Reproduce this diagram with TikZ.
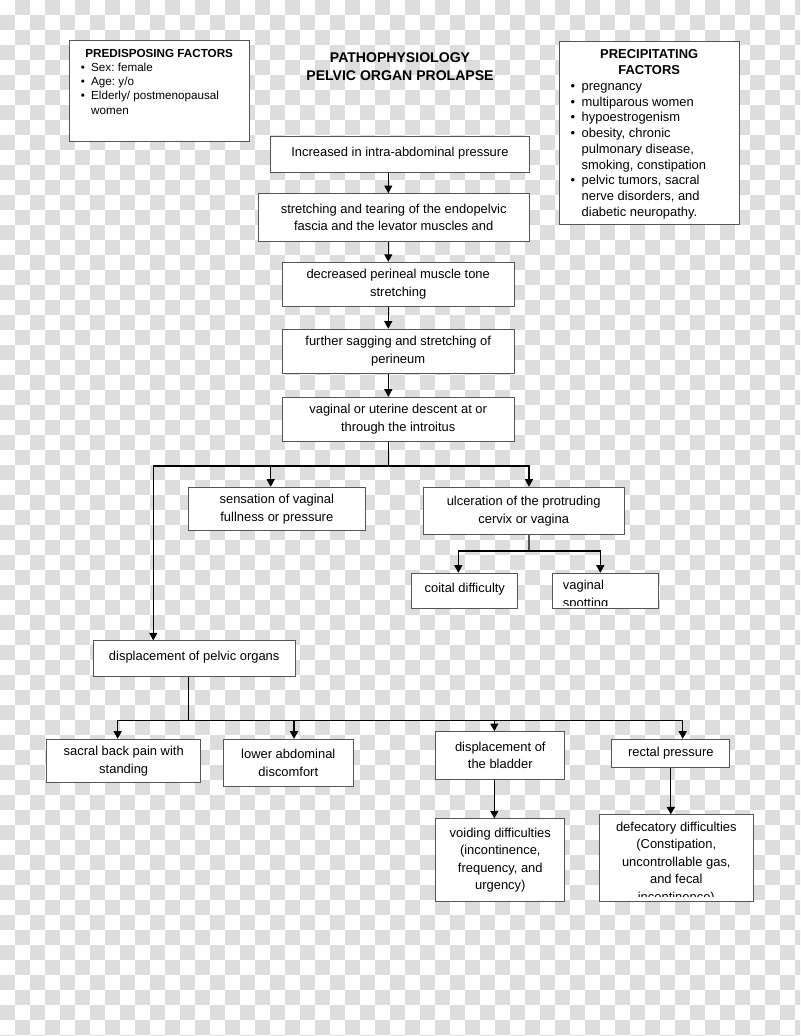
\documentclass[tikz,border=0pt]{standalone}
\usepackage{fontspec}
\setmainfont{Liberation Sans}
\usetikzlibrary{arrows.meta}
\definecolor{checkgray}{HTML}{DDDDDD}
\definecolor{boxline}{HTML}{555555}
\newlength\pxu
\setlength\pxu{0.025cm}
\frenchspacing

\begin{document}
\begin{tikzpicture}[x=0.025cm, y=-0.025cm, >={Triangle[length=0.19cm, width=0.2cm]},
	boxtext/.style={align=center, inner sep=0pt, font=\fontsize{9.2}{12.4}\selectfont},
	box/.style={boxtext, draw=boxline, fill=white, line width=0.7pt},
	oneline/.style={text depth=4.5pt},
	link/.style={line width=0.9pt}]
	
	% Background
	\useasboundingbox (0,0) rectangle (800,1036);
	\fill[white] (0,0) rectangle (800,1036);
	\begin{scope}
		\clip (0,0) rectangle (800,1036);
		\foreach \j in {0,...,69}{
			\pgfmathtruncatemacro\cstart{mod(\j+1,2)}
			\pgfmathtruncatemacro\cnext{\cstart+2}
			\foreach \i in {\cstart,\cnext,...,53}
			\fill[checkgray] (\i*15,\j*15) rectangle ++(15,15);
		}
	\end{scope}
	
	% Title
	\node[font=\fontsize{10}{13.3}\selectfont\bfseries, align=center] (title) at (400,66.6) {PATHOPHYSIOLOGY\\PELVIC ORGAN PROLAPSE};
	
	% Factor boxes
	\node[box, minimum width=180.3*\pxu, minimum height=100.7*\pxu] (predis) at (159.2,91.3) {};
	\node[anchor=north, inner sep=0pt, font=\fontsize{8.3}{10.1}\selectfont] (predistext) at (159.2,47) {%
		\begin{tabular}{@{}p{10.3\pxu}@{}p{146.3\pxu}@{}}
			\multicolumn{2}{@{}c@{}}{\bfseries PREDISPOSING FACTORS}\\
			\textbullet & Sex: female\\
			\textbullet & Age: y/o\\
			\textbullet & Elderly/ postmenopausal\\
			& women
		\end{tabular}};
	
	\node[box, minimum width=180.3*\pxu, minimum height=183.3*\pxu] (precip) at (649.2,132.7) {};
	\node[anchor=north, inner sep=0pt, font=\fontsize{9.2}{11.2}\selectfont] (preciptext) at (649.2,47.5) {%
		\begin{tabular}{@{}p{11.2\pxu}@{}p{146.2\pxu}@{}}
			\multicolumn{2}{@{}c@{}}{\bfseries PRECIPITATING}\\
			\multicolumn{2}{@{}c@{}}{\bfseries FACTORS}\\
			\textbullet & pregnancy\\
			\textbullet & multiparous women\\
			\textbullet & hypoestrogenism\\
			\textbullet & obesity, chronic\\
			& pulmonary disease,\\
			& smoking, constipation\\
			\textbullet & pelvic tumors, sacral\\
			& nerve disorders, and\\
			& diabetic neuropathy.
		\end{tabular}};
	
	% Main chain
	\node[box, oneline, minimum width=258.3*\pxu, minimum height=36*\pxu] (incr) at (399.9,154.7) {Increased in intra-abdominal pressure};
	\node[box, minimum width=270.7*\pxu, minimum height=47.7*\pxu] (stretch) at (393.7,217.5) {stretching and tearing of the endopelvic\\fascia and the levator muscles and};
	\node[box, minimum width=231.7*\pxu, minimum height=43.7*\pxu] (decr) at (398.2,284.2) {decreased perineal muscle tone\\stretching};
	\node[box, minimum width=231.7*\pxu, minimum height=44*\pxu] (sag) at (398.2,351.3) {further sagging and stretching of\\perineum};
	\node[box, minimum width=231.7*\pxu, minimum height=44*\pxu] (desc) at (398.2,419.3) {vaginal or uterine descent at or\\through the introitus};
	
	% First branches
	\node[box, minimum width=177*\pxu, minimum height=43.4*\pxu] (fullness) at (276.8,509) {sensation of vaginal\\fullness or pressure};
	\node[box, minimum width=200.7*\pxu, minimum height=47.4*\pxu] (ulcer) at (523.7,511) {ulceration of the protruding\\cervix or vagina};
	\node[box, oneline, minimum width=106.3*\pxu, minimum height=35*\pxu] (coital) at (464.8,590.8) {coital difficulty};
	\node[box, minimum width=106.3*\pxu, minimum height=35*\pxu] (spot) at (605.8,590.8) {};
	\begin{scope}
		\clip ([yshift=3.5*\pxu]spot.south west) rectangle (spot.north east);
		\node[boxtext, anchor=west, align=left] (spottext) at (562.7,595) {vaginal\\spotting};
	\end{scope}
	
	% Displacement of pelvic organs
	\node[box, oneline, minimum width=201.7*\pxu, minimum height=35.7*\pxu] (organs) at (194.2,658.8) {displacement of pelvic organs};
	\node[box, minimum width=154*\pxu, minimum height=43.4*\pxu] (sacral) at (123.7,761) {sacral back pain with\\standing};
	\node[box, minimum width=130*\pxu, minimum height=47.4*\pxu] (lowabd) at (288.3,763) {lower abdominal\\discomfort};
	\node[box, minimum width=129.3*\pxu, minimum height=47.6*\pxu] (bladder) at (500.3,755.5) {displacement of\\the bladder};
	\node[box, minimum width=118.3*\pxu, minimum height=28*\pxu] (rectal) at (670.8,753.3) {rectal pressure};
	\node[box, minimum width=129.3*\pxu, minimum height=82.7*\pxu] (voiding) at (500.3,860.3) {voiding difficulties\\(incontinence,\\frequency, and\\urgency)};
	\node[box, minimum width=154*\pxu, minimum height=86.7*\pxu] (defec) at (676.3,858.3) {};
	\begin{scope}
		\clip ([yshift=5.5*\pxu]defec.south west) rectangle (defec.north east);
		\node[boxtext] (defectext) at (676.3,863) {defecatory difficulties\\(Constipation,\\uncontrollable gas,\\and fecal\\incontinence)};
	\end{scope}
	
	% Connections main chain
	\coordinate (spine) at (388.3,0);
	\foreach \a/\b in {incr/stretch, stretch/decr, decr/sag, sag/desc}
	\draw[link,->] (\a.south -| spine) -- (\b.north -| spine);
	
	% Connections first split
	\coordinate (split1) at (388.3,466);
	\draw[link] (desc.south -| spine) -- (split1);
	\draw[link,->] (split1) -| ([xshift=-6.1*\pxu]fullness.north);
	\draw[link,->] (split1) -| ([xshift=5.3*\pxu]ulcer.north);
	\draw[link,->] (split1) -| ([xshift=-40.9*\pxu]organs.north);
	
	% Connections ulceration
	\coordinate (split2) at (529,551);
	\draw[link] ([xshift=5.3*\pxu]ulcer.south) -- (split2);
	\draw[link,->] (split2) -| ([xshift=-6.5*\pxu]coital.north);
	\draw[link,->] (split2) -| ([xshift=-5.5*\pxu]spot.north);
	
	% Connections displacement
	\coordinate (split3) at (188.3,720.5);
	\draw[link] ([xshift=-5.9*\pxu]organs.south) -- (split3);
	\draw[link,->] (split3) -| ([xshift=-6*\pxu]sacral.north);
	\draw[link,->] (split3) -| ([xshift=5.7*\pxu]lowabd.north);
	\draw[link,->] (split3) -| ([xshift=-6*\pxu]bladder.north);
	\draw[link,->] (split3) -| ([xshift=11.9*\pxu]rectal.north);
	\draw[link,->] ([xshift=-6*\pxu]bladder.south) -- ([xshift=-6*\pxu]voiding.north);
	\draw[link,->] (rectal.south) -- (rectal.south |- defec.north);
	
\end{tikzpicture}
\end{document}
